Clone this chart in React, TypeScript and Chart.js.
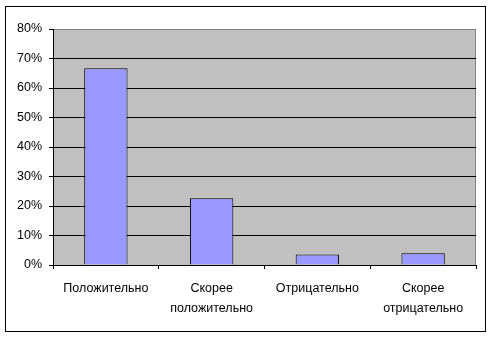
import React, { useEffect, useRef } from "react";
import { Chart, registerables } from "chart.js";

Chart.register(...registerables);

const categories: (string | string[])[] = [
  "Положительно",
  ["Скорее", "положительно"],
  "Отрицательно",
  ["Скорее", "отрицательно"],
];
const values: number[] = [66.7, 22.6, 3.6, 4.0];
const yTicks: number[] = [0, 10, 20, 30, 40, 50, 60, 70, 80];

const FONT = "'Liberation Sans', Arial, sans-serif";

const framePlugin = {
  id: "frame",
  beforeDraw(chart: any) {
    const { ctx, chartArea } = chart;
    ctx.save();
    ctx.fillStyle = "#ffffff";
    ctx.fillRect(0, 0, chart.width, chart.height);
    ctx.strokeStyle = "#000000";
    ctx.lineWidth = 1;
    ctx.strokeRect(5.5, 6.5, 480, 325);
    ctx.fillStyle = "#c0c0c0";
    ctx.fillRect(chartArea.left, chartArea.top, chartArea.right - chartArea.left, chartArea.bottom - chartArea.top);
    ctx.strokeStyle = "#808080";
    ctx.strokeRect(chartArea.left + 0.5, chartArea.top + 0.5, chartArea.right - chartArea.left - 1, chartArea.bottom - chartArea.top);
    ctx.restore();
  },
};

export default function App() {
  const ref = useRef<HTMLCanvasElement | null>(null);
  useEffect(() => {
    if (!ref.current) return;
    const chart = new Chart(ref.current, {
      type: "bar",
      data: {
        labels: categories,
        datasets: [
          {
            data: values,
            backgroundColor: "#9999ff",
            borderColor: "#000000",
            borderWidth: 1,
            barPercentage: 0.41,
            categoryPercentage: 1,
          },
        ],
      },
      options: {
        animation: false,
        responsive: false,
        devicePixelRatio: 1,
        layout: { padding: { left: 0, top: 29, right: 15, bottom: 0 } },
        plugins: { legend: { display: false }, tooltip: { enabled: false } },
        scales: {
          x: {
            offset: true,
            afterFit(scale: any) {
              scale.height = 72;
            },
            grid: {
              offset: true,
              drawOnChartArea: false,
              drawTicks: true,
              tickLength: 4,
              color: "#000000",
            },
            border: { color: "#000000", width: 1 },
            ticks: {
              color: "#000000",
              padding: 10,
              maxRotation: 0,
              autoSkip: false,
              font: { family: FONT, size: 12.5, lineHeight: 1.55 },
            },
          },
          y: {
            min: 0,
            max: 80,
            afterFit(scale: any) {
              scale.width = 53;
            },
            afterBuildTicks(scale: any) {
              scale.ticks = yTicks.map((v) => ({ value: v }));
            },
            grid: {
              color: (c: any) => (c.tick && c.tick.value === 80 ? "#808080" : "#000000"),
              tickColor: "#000000",
              tickLength: 4,
              lineWidth: 1,
            },
            border: { color: "#000000", width: 1 },
            ticks: {
              color: "#000000",
              padding: 7,
              font: { family: FONT, size: 12.5 },
              callback: (v: any) => v + "%",
            },
          },
        },
      },
      plugins: [framePlugin],
    });
    return () => chart.destroy();
  }, []);
  return (
    <div style={{ position: "absolute", left: 0, top: 0, width: 491, height: 337 }}>
      <canvas ref={ref} width={491} height={337} style={{ display: "block" }} />
    </div>
  );
}
